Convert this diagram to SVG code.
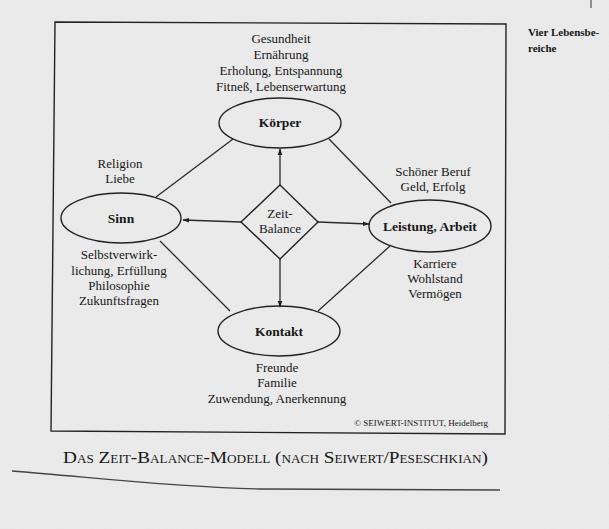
<svg xmlns="http://www.w3.org/2000/svg" width="609" height="529" viewBox="0 0 609 529">
<defs>
<marker id="ah" viewBox="0 0 10 10" refX="9" refY="5" markerWidth="7" markerHeight="7" orient="auto" markerUnits="userSpaceOnUse">
<path d="M0,1.5 L10,5 L0,8.5 z" fill="#222"/>
</marker>
<filter id="paper" x="0" y="0" width="100%" height="100%">
<feTurbulence type="fractalNoise" baseFrequency="0.9" numOctaves="2" seed="3" result="n"/>
<feColorMatrix type="matrix" values="0 0 0 0 0.9  0 0 0 0 0.9  0 0 0 0 0.9  0 0 0 -1.2 0.9" in="n"/>
</filter>
</defs>
<style>
text{font-family:"Liberation Serif","Times New Roman",serif;fill:#161616;text-anchor:middle}
.t{font-size:13px}
.b{font-size:13.5px;font-weight:bold}
.n{fill:none;stroke:#222;stroke-width:1.4}
.c{stroke:#2a2a2a;stroke-width:1.3;fill:none}
</style>
<rect width="609" height="529" fill="#e8e8e8"/>
<rect x="0" y="0" width="609" height="529" fill="#e8e8e8" filter="url(#paper)" opacity="0.5"/>
<path d="M55,22 L506,24 L505,434 L51,431 Z" fill="none" stroke="#222" stroke-width="1.4"/>
<line x1="591" y1="0" x2="591" y2="8" stroke="#333" stroke-width="1"/>
<g id="side-note">
<text x="528" y="36" style="font-size:11px;font-weight:bold;text-anchor:start">Vier Lebensbe-</text>
<text x="528" y="52" style="font-size:11px;font-weight:bold;text-anchor:start">reiche</text>
</g>
<g id="connectors">
<line class="c" x1="280" y1="185" x2="280" y2="149" marker-end="url(#ah)"/>
<line class="c" x1="241" y1="222" x2="183" y2="220" marker-end="url(#ah)"/>
<line class="c" x1="318" y1="222" x2="369" y2="224" marker-end="url(#ah)"/>
<line class="c" x1="280" y1="259" x2="280" y2="307" marker-end="url(#ah)"/>
<line class="c" x1="233" y1="139" x2="156" y2="197"/>
<line class="c" x1="329" y1="139" x2="391" y2="203"/>
<line class="c" x1="160" y1="241" x2="230" y2="311"/>
<line class="c" x1="390" y1="246" x2="318" y2="311"/>
</g>
<g id="koerper">
<text class="t" x="281" y="43">Gesundheit</text>
<text class="t" x="281" y="59">Ernährung</text>
<text class="t" x="281" y="75">Erholung, Entspannung</text>
<text class="t" x="281" y="91">Fitneß, Lebenserwartung</text>
<ellipse class="n" cx="280" cy="123" rx="61" ry="25"/>
<text class="b" x="280" y="127">Körper</text>
</g>
<g id="sinn">
<text class="t" x="120" y="168">Religion</text>
<text class="t" x="120" y="183">Liebe</text>
<ellipse class="n" cx="121" cy="218" rx="60" ry="25"/>
<text class="b" x="121" y="223">Sinn</text>
<text class="t" x="119" y="259">Selbstverwirk-</text>
<text class="t" x="119" y="275">lichung, Erfüllung</text>
<text class="t" x="119" y="290">Philosophie</text>
<text class="t" x="119" y="305">Zukunftsfragen</text>
</g>
<g id="leistung">
<text class="t" x="433" y="176">Schöner Beruf</text>
<text class="t" x="433" y="191">Geld, Erfolg</text>
<ellipse class="n" cx="430" cy="226" rx="61" ry="26"/>
<text class="b" x="430" y="231">Leistung, Arbeit</text>
<text class="t" x="435" y="268">Karriere</text>
<text class="t" x="435" y="283">Wohlstand</text>
<text class="t" x="435" y="298">Vermögen</text>
</g>
<g id="kontakt">
<ellipse class="n" cx="279" cy="331" rx="61" ry="25"/>
<text class="b" x="279" y="336">Kontakt</text>
<text class="t" x="277" y="372">Freunde</text>
<text class="t" x="277" y="387">Familie</text>
<text class="t" x="277" y="403">Zuwendung, Anerkennung</text>
</g>
<g id="zeit-balance">
<path class="n" d="M280,185 L318,222 L280,259 L241,222 Z"/>
<text class="t" x="280" y="218">Zeit-</text>
<text class="t" x="280" y="233">Balance</text>
</g>
<text x="488" y="426" style="font-size:9px;text-anchor:end">© SEIWERT-INSTITUT, Heidelberg</text>
<text x="63" y="463" textLength="425" lengthAdjust="spacingAndGlyphs" style="font-size:17.5px;font-variant:small-caps;text-anchor:start">Das Zeit-Balance-Modell (nach Seiwert/Peseschkian)</text>
<path d="M12,471 C 90,477 170,487 260,489 L 500,490" fill="none" stroke="#444" stroke-width="1.3"/>
</svg>
